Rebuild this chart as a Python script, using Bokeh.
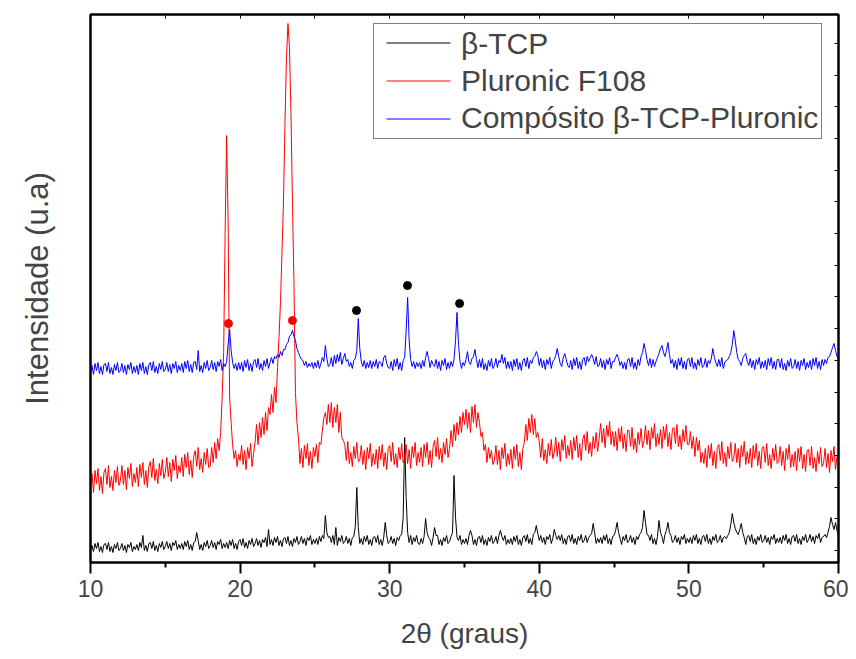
import numpy as np
from bokeh.plotting import figure
from bokeh.models import Range1d, LinearAxis, FixedTicker, Legend, LegendItem
from bokeh.embed import file_html
from bokeh.resources import INLINE

# measurement grid, 2theta in degrees (step 0.1)
two_theta = np.round(np.arange(10.0, 60.01, 0.1), 1)

# beta-TCP pattern (a.u., stacked display values)
beta_tcp = [
    12,17,11,19,14,20,11,16,10,18,
    19,13,20,11,16,10,18,14,20,12,
    14,19,12,17,10,18,15,20,11,16,
    13,18,12,20,15,27,12,17,11,19,
    20,14,21,12,17,11,19,15,21,13,
    16,21,14,19,12,20,17,22,13,18,
    14,19,13,21,16,22,13,18,12,20,
    21,30,22,13,18,12,20,16,22,14,
    17,22,15,20,13,21,18,23,14,19,
    15,20,14,22,17,23,14,19,13,21,
    23,17,24,15,20,14,22,18,24,16,
    19,24,17,22,15,23,20,25,16,33,
    18,23,17,25,20,26,17,22,16,24,
    25,19,26,17,22,16,24,20,26,18,
    21,26,19,24,17,25,22,27,18,23,
    19,24,18,26,21,27,24,47,30,25,
    26,20,27,18,35,17,25,21,27,19,
    21,26,19,24,17,25,26,36,75,35,
    19,24,18,26,21,27,18,23,17,25,
    26,20,27,18,23,17,25,40,27,19,
    21,26,19,24,17,25,22,27,28,45,
    125,65,30,20,27,18,25,21,27,19,
    18,24,19,26,44,30,25,23,17,25,
    35,27,27,18,23,17,25,21,27,19,
    21,26,30,87,45,25,22,27,18,23,
    19,24,18,27,32,27,18,23,17,25,
    26,20,27,18,23,17,25,21,27,19,
    21,26,19,27,32,26,22,27,18,23,
    19,24,18,26,21,27,18,23,17,25,
    27,21,28,19,24,18,28,30,37,29,
    22,27,20,25,18,26,23,28,19,24,
    33,27,23,27,22,28,19,24,18,26,
    27,21,28,19,24,18,26,22,28,20,
    22,27,20,25,27,29,39,30,19,24,
    20,25,19,27,22,28,19,24,18,26,
    27,32,40,30,24,18,26,22,28,20,
    22,27,20,25,18,26,23,28,30,35,
    52,40,28,27,22,28,19,24,18,26,
    42,30,26,19,28,32,40,30,27,20,
    22,27,20,25,18,26,23,28,19,24,
    20,25,19,27,22,28,19,24,18,26,
    27,21,28,19,24,18,26,22,28,20,
    22,27,20,25,26,24,27,30,38,49,
    40,34,30,28,33,39,30,25,18,26,
    27,21,28,19,24,18,26,22,28,20,
    22,27,20,25,18,26,23,28,19,24,
    20,25,19,27,22,28,19,24,18,26,
    27,21,28,19,24,18,26,22,28,20,
    23,28,21,26,19,27,24,29,20,25,
    26,28,25,30,36,45,38,33,40,32,
    27,
]

# Pluronic F108 pattern
pluronic = [
    74,89,70,92,79,94,72,86,69,90,
    94,78,97,75,86,72,92,80,96,77,
    82,97,78,92,73,95,84,99,76,89,
    80,95,76,98,85,100,78,92,75,96,
    101,85,104,82,93,79,99,87,103,84,
    90,105,86,100,81,103,92,107,84,97,
    90,105,86,108,95,110,88,102,85,106,
    112,96,115,93,104,90,110,98,114,95,
    96,115,100,120,104,124,112,130,165,210,
    330,427,340,165,140,118,104,112,96,108,
    102,117,98,112,93,115,104,119,96,109,
    120,138,118,140,125,145,128,150,132,155,
    148,168,150,175,160,195,225,260,310,360,
    440,505,539,515,450,360,280,170,140,125,
    99,114,95,117,104,119,97,111,94,115,
    106,118,100,120,118,132,145,150,138,158,
    140,160,135,155,140,158,130,150,125,122,
    118,102,121,99,110,96,116,104,120,101,
    102,117,98,112,93,115,104,119,96,109,
    98,113,94,116,103,118,96,110,93,114,
    117,101,120,98,109,95,115,103,119,100,
    103,118,99,113,94,116,105,120,97,110,
    100,115,96,118,105,120,98,112,95,116,
    122,106,125,103,114,100,120,108,124,105,
    114,132,116,138,122,140,128,146,130,150,
    138,153,134,150,130,156,140,158,135,150,
    140,126,130,112,118,100,115,104,112,98,
    102,117,98,112,93,115,104,119,96,109,
    98,113,94,116,103,118,96,110,93,114,
    120,138,122,144,130,148,128,144,125,130,
    121,105,124,102,113,99,119,107,123,104,
    110,125,106,120,101,123,112,127,104,117,
    107,122,103,125,112,127,105,119,102,123,
    128,112,131,109,120,106,126,114,130,111,
    124,139,120,134,115,137,126,141,118,131,
    116,131,112,134,121,136,114,128,111,132,
    132,116,135,113,124,110,130,118,134,115,
    122,137,118,132,113,135,124,139,116,129,
    118,133,114,136,123,138,116,130,113,134,
    135,119,138,116,127,113,133,121,137,118,
    118,131,114,126,106,125,112,122,100,110,
    99,114,95,117,104,119,97,111,94,115,
    118,102,121,99,110,96,116,104,120,101,
    104,119,100,114,95,117,106,121,98,111,
    99,114,95,117,104,119,97,111,94,115,
    116,100,119,97,108,94,114,102,118,99,
    101,116,97,111,92,114,103,118,95,108,
    96,111,92,114,101,116,94,108,91,112,
    113,97,116,94,105,91,111,99,115,96,
    99,114,95,109,90,112,101,116,93,106,
    102,
]

# beta-TCP-Pluronic composite pattern
composite = [
    190,197,188,199,192,200,189,196,188,198,
    199,191,200,189,195,188,198,192,200,190,
    192,199,190,197,188,198,193,200,189,196,
    190,197,188,199,192,200,189,196,188,198,
    200,192,201,190,196,189,199,193,201,191,
    193,200,191,198,189,199,194,201,190,197,
    192,199,190,201,194,202,191,198,190,200,
    201,193,212,191,197,190,200,194,202,192,
    195,202,193,200,191,201,196,203,192,199,
    196,201,218,233,212,200,194,199,192,200,
    193,200,191,202,195,203,192,199,191,201,
    203,195,204,193,199,192,202,196,204,194,
    200,205,199,206,204,208,205,211,207,213,
    213,218,220,226,228,232,226,222,214,210,
    206,203,202,197,201,195,199,196,200,194,
    200,195,202,194,199,205,201,217,204,196,
    198,205,196,207,199,208,201,210,198,204,
    209,201,203,196,200,194,202,204,212,244,
    214,201,196,202,194,200,195,202,194,201,
    196,203,194,201,200,196,205,207,199,195,
    194,201,192,203,196,204,193,200,192,202,
    205,232,265,222,203,196,201,194,200,196,
    200,194,202,196,205,211,204,195,202,198,
    196,203,194,201,192,202,197,204,193,200,
    194,201,196,203,222,250,218,201,194,200,
    197,203,211,200,198,204,206,213,203,195,
    203,195,204,193,199,192,202,196,204,194,
    197,204,195,202,200,208,199,205,194,201,
    194,201,192,203,196,204,193,200,192,202,
    204,196,205,194,202,199,205,206,211,207,
    197,204,195,202,193,203,198,205,194,201,
    203,207,214,206,199,196,205,209,203,197,
    195,202,193,204,197,205,194,201,193,203,
    205,197,206,201,205,208,204,198,206,196,
    197,204,195,202,193,203,198,205,194,201,
    201,205,208,204,197,201,194,200,193,203,
    204,196,205,194,200,193,203,197,206,210,
    219,212,203,197,204,195,203,196,201,205,
    209,214,217,210,206,212,220,208,199,203,
    195,202,193,204,197,205,194,201,193,203,
    204,196,205,194,200,193,203,197,205,195,
    197,204,195,202,199,204,214,205,200,196,
    203,196,205,194,200,202,203,206,210,218,
    232,222,210,203,201,197,204,207,209,201,
    197,204,195,202,193,203,198,205,194,201,
    195,202,193,204,197,205,194,201,193,203,
    203,195,204,193,199,192,202,196,204,194,
    196,203,194,201,192,202,197,204,193,200,
    195,202,193,204,197,205,194,201,193,203,
    197,203,199,205,206,210,215,219,212,206,
    204,
]

series_names = ["β-TCP", "Pluronic F108", "Compósito β-TCP-Pluronic"]
series_colors = ["black", "red", "blue"]

# peak markers
red_mark_x = [19.22, 23.5]
red_mark_y = [239, 242]
black_mark_x = [27.78, 31.19, 34.67]
black_mark_y = [252, 277, 259]

FONT = "Liberation Sans"

# layout constants (pixels)
FRAME_L, FRAME_R, FRAME_T, FRAME_B = 90, 838, 14, 562
X0, X1, Y0, Y1 = 10, 60, 0, 548


def px_to_x(px):
    return X0 + (px - FRAME_L) * (X1 - X0) / (FRAME_R - FRAME_L)


def py_to_y(py):
    return Y0 + (FRAME_B - py) * (Y1 - Y0) / (FRAME_B - FRAME_T)


p = figure(width=848, height=653, output_backend="svg", toolbar_location=None,
           x_range=Range1d(X0, X1), y_range=Range1d(Y0, Y1),
           min_border_left=FRAME_L, min_border_right=10, min_border_top=FRAME_T,
           min_border_bottom=91)
p.xgrid.visible = False
p.ygrid.visible = False
p.outline_line_color = "black"
p.outline_line_width = 2
p.background_fill_color = "white"
p.border_fill_color = "white"

for ys, col in zip([beta_tcp, pluronic, composite], series_colors):
    p.line(two_theta[:len(ys)], ys, line_color=col, line_width=1)

p.scatter(red_mark_x, red_mark_y, marker="circle", size=8, fill_color="red", line_color="red")
p.scatter(black_mark_x, black_mark_y, marker="circle", size=8, fill_color="black", line_color="black")

# bottom axis
xa = p.xaxis[0]
xa.ticker = FixedTicker(ticks=[10, 20, 30, 40, 50, 60], minor_ticks=[15, 25, 35, 45, 55])
xa.axis_line_width = 2
xa.major_tick_line_width = 2
xa.minor_tick_line_width = 2
xa.major_tick_out = 11
xa.major_tick_in = 0
xa.minor_tick_out = 5
xa.minor_tick_in = 0
xa.major_label_text_font = FONT
xa.major_label_text_font_size = "23px"
xa.major_label_standoff = 6
xa.axis_label = "2θ (graus)"
xa.axis_label_text_font = FONT
xa.axis_label_text_font_size = "28px"
xa.axis_label_text_font_style = "normal"
xa.axis_label_standoff = 18

# left axis
ya = p.yaxis[0]
ya.ticker = FixedTicker(ticks=[])
ya.axis_line_width = 2
ya.major_tick_out = 0
ya.minor_tick_out = 0
ya.major_label_text_font_size = "0px"
ya.axis_label = "Intensidade (u.a)"
ya.axis_label_text_font = FONT
ya.axis_label_text_font_size = "31px"
ya.axis_label_text_font_style = "normal"
ya.axis_label_standoff = 36

# top axis (inward ticks)
top = LinearAxis(ticker=FixedTicker(ticks=[10, 15, 20, 25, 30, 35, 40, 45, 50, 55, 60]),
                 major_tick_in=4, major_tick_out=0, minor_tick_in=0, minor_tick_out=0,
                 major_label_text_font_size="0px", axis_line_width=2, major_tick_line_width=1)
p.add_layout(top, "above")

# right axis (inward ticks)
right_ticks = [12 + 31.7 * k for k in range(18)]
right = LinearAxis(ticker=FixedTicker(ticks=right_ticks),
                   major_tick_in=4, major_tick_out=0, minor_tick_in=0, minor_tick_out=0,
                   major_label_text_font_size="0px", axis_line_width=2, major_tick_line_width=1)
p.add_layout(right, "right")

# legend: labels from the Legend model, sample lines drawn explicitly
LEG_LEFT, LEG_BOTTOM, LEG_PAD, ROW_H, ROW_GAP, GLYPH_W = 373, 139, 3, 35, 3, 70
SAMPLE_L, SAMPLE_R = 386, 450
legend_items = []
for name in series_names:
    ghost = p.line([X0 - 5, X0 - 4], [Y0 - 5, Y0 - 5], line_alpha=0)
    legend_items.append(LegendItem(label=name, renderers=[ghost]))

legend = Legend(items=legend_items, location=(LEG_LEFT - FRAME_L, FRAME_B - LEG_BOTTOM))
legend.label_text_font = FONT
legend.label_text_font_size = "30px"
legend.glyph_width = GLYPH_W
legend.glyph_height = 30
legend.label_standoff = 14
legend.spacing = ROW_GAP
legend.padding = LEG_PAD
legend.border_line_color = "black"
legend.border_line_width = 1
legend.background_fill_alpha = 0.0
p.add_layout(legend, "center")

leg_top = LEG_BOTTOM - (2 * LEG_PAD + 3 * ROW_H + 2 * ROW_GAP)
row_py = [leg_top + LEG_PAD + ROW_H / 2 + k * (ROW_H + ROW_GAP) for k in range(3)]
seg_x0 = [px_to_x(SAMPLE_L)] * 3
seg_x1 = [px_to_x(SAMPLE_R)] * 3
seg_y = [py_to_y(v) for v in row_py]
p.segment(x0=seg_x0, y0=seg_y, x1=seg_x1, y1=seg_y, line_color=series_colors, line_width=1)

open("out.html", "w").write(file_html(p, INLINE))
